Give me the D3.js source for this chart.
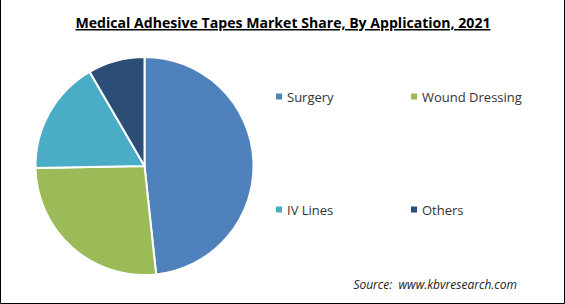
<!DOCTYPE html>
<html>
<head>
<meta charset="utf-8">
<script src="https://cdn.jsdelivr.net/npm/d3@7"></script>
<style>
  body { margin: 0; background: #fff; }
  svg { display: block; font-family: "Open Sans", "Noto Sans", sans-serif; }
</style>
</head>
<body>
<svg width="565" height="304" id="chart"></svg>
<script>
  // values (percent share)
  const categories = ["Surgery", "Wound Dressing", "IV Lines", "Others"];
  const shares = [48.3, 26.4, 16.9, 8.4];
  const colors = ["#4f81bd", "#9bbb59", "#4bacc6", "#2c4d75"];

  const svg = d3.select("#chart");
  const W = 565, H = 304;

  // frame
  svg.append("path")
    .attr("d", `M0.5,0 V${H - 0.5} H${W - 0.5} V0`)
    .attr("fill", "none")
    .attr("stroke", "#000")
    .attr("stroke-width", 1);

  svg.append("text")
    .attr("x", 283)
    .attr("y", 28)
    .attr("text-anchor", "middle")
    .attr("textLength", 415)
    .attr("lengthAdjust", "spacingAndGlyphs")
    .style("font-size", "15px")
    .style("font-weight", "bold")
    .style("text-decoration", "underline")
    .attr("fill", "#000")
    .text("Medical Adhesive Tapes Market Share, By Application, 2021");

  const data = categories.map((c, i) => ({ name: c, value: shares[i], color: colors[i] }));

  const pie = d3.pie().sort(null).value(d => d.value);
  const arc = d3.arc().innerRadius(0).outerRadius(109);

  const g = svg.append("g").attr("transform", "translate(144.5,166)");
  g.selectAll("path")
    .data(pie(data))
    .enter().append("path")
    .attr("d", arc)
    .attr("fill", d => d.data.color)
    .attr("stroke", "#fff")
    .attr("stroke-width", 2);

  // legend, 2 x 2
  const legendPos = [[276, 97], [411, 97], [276, 210], [411, 210]];
  const leg = svg.selectAll(".leg")
    .data(data)
    .enter().append("g")
    .attr("class", "leg")
    .attr("transform", (d, i) => "translate(" + legendPos[i][0] + "," + legendPos[i][1] + ")");

  leg.append("rect")
    .attr("x", 0)
    .attr("y", -3.5)
    .attr("width", 6)
    .attr("height", 6)
    .attr("fill", d => d.color);

  leg.append("text")
    .attr("x", 11)
    .attr("dy", "0.35em")
    .style("font-size", "13px")
    .attr("fill", "#333")
    .text(d => d.name);

  svg.append("text")
    .attr("x", 517)
    .attr("y", 289)
    .attr("text-anchor", "end")
    .style("font-size", "12px")
    .style("font-style", "italic")
    .style("white-space", "pre")
    .attr("fill", "#222")
    .text("Source:  www.kbvresearch.com");
</script>
</body>
</html>
